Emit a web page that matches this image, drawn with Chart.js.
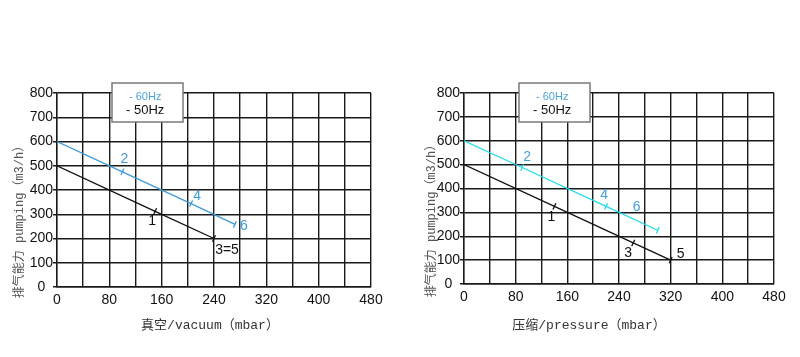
<!DOCTYPE html>
<html><head><meta charset="utf-8">
<script src="https://cdn.jsdelivr.net/npm/chart.js@4"></script>
<style>
html,body{margin:0;padding:0;background:#fff;width:800px;height:357px;overflow:hidden}
.wrap{position:absolute;top:0;width:400px;height:357px}
</style></head><body>
<div class="wrap" style="left:0"><canvas id="c1" width="400" height="357"></canvas></div>
<div class="wrap" style="left:400px"><canvas id="c2" width="400" height="357"></canvas></div>
<script>
// ---- data ----
const seriesNames = ['- 60Hz', '- 50Hz'];
const xTickLabels = [0, 80, 160, 240, 320, 400, 480];
const yTickLabels = [0, 100, 200, 300, 400, 500, 600, 700, 800];
const yTitle = '排气能力 pumping（m3/h）';

const vacuumTitle = '真空/vacuum（mbar）';
const vacuumX60 = [0, 100, 205, 272];
const vacuumY60 = [600, 475, 344, 258];
const vacuumText60 = ['', '2', '4', '6'];
const vacuumX50 = [0, 150, 240];
const vacuumY50 = [500, 312, 200];
const vacuumText50 = ['', '1', '3=5'];

const pressureTitle = '压缩/pressure（mbar）';
const pressureX60 = [0, 90, 220, 300];
const pressureY60 = [600, 488, 325, 225];
const pressureText60 = ['', '2', '4', '6'];
const pressureX50 = [0, 140, 262, 320];
const pressureY50 = [500, 325, 172, 100];
const pressureText50 = ['', '1', '3', '5'];

// ---- styling / layout ----
const GRID = '#1a1a1a';
const BLUE = '#3d9bd9';

function pts(X, Y) { return X.map((x, i) => ({x: x, y: Y[i]})); }

function makeChart(id, o) {
  const plugin = {
    id: 'decor_' + id,
    afterDatasetsDraw(chart) {
      const ctx = chart.ctx;
      chart.data.datasets.forEach((ds, di) => {
        const meta = chart.getDatasetMeta(di);
        o.texts[di].forEach((t, i) => {
          if (!t) return;
          const el = meta.data[i];
          const off = o.offsets[di][i];
          ctx.save();
          ctx.font = '14px "Liberation Sans", Arial, sans-serif';
          ctx.fillStyle = o.textColors[di];
          ctx.textAlign = 'center';
          ctx.textBaseline = 'middle';
          ctx.fillText(t, el.x + off[0], el.y + off[1]);
          ctx.restore();
        });
      });
    },
    afterDraw(chart) {
      const ctx = chart.ctx;
      ctx.save();
      // legend box
      const b = o.legendBox;
      ctx.fillStyle = '#fff';
      ctx.fillRect(b[0], b[1], b[2], b[3]);
      ctx.strokeStyle = '#7a7a7a';
      ctx.lineWidth = 1.5;
      ctx.strokeRect(b[0], b[1], b[2], b[3]);
      ctx.textBaseline = 'middle';
      ctx.textAlign = 'left';
      ctx.font = '11px "Liberation Sans", Arial, sans-serif';
      ctx.fillStyle = '#4aa3df';
      ctx.fillText(seriesNames[0], b[0] + 17, b[1] + 14);
      ctx.font = '13px "Liberation Sans", Arial, sans-serif';
      ctx.fillStyle = '#111';
      ctx.fillText(seriesNames[1], b[0] + 14, b[1] + 27);
      // x title
      ctx.fillStyle = '#333';
      ctx.textAlign = 'center';
      ctx.font = '13px "Liberation Mono", "Noto Sans CJK SC", monospace';
      ctx.fillText(o.xTitle, o.xTitlePos[0], o.xTitlePos[1]);
      // y title
      ctx.translate(o.yTitlePos[0], o.yTitlePos[1]);
      ctx.rotate(-Math.PI / 2);
      ctx.fillStyle = '#555';
      ctx.font = '12px "Liberation Mono", "Noto Sans CJK SC", monospace';
      ctx.fillText(yTitle, 0, 0);
      ctx.restore();
    }
  };
  const mkDs = (X, Y, color, texts) => ({
    data: pts(X, Y),
    showLine: true,
    borderColor: color,
    borderWidth: 1.3,
    pointStyle: 'line',
    pointRadius: texts.map((t, i) => i === 0 ? 0 : 3.5),
    pointRotation: 115,
    pointBorderColor: color,
    pointBorderWidth: 1.3,
    pointHoverRadius: 0,
    fill: false
  });
  return new Chart(document.getElementById(id), {
    type: 'scatter',
    data: {
      datasets: [
        mkDs(o.X[0], o.Y[0], o.lineColors[0], o.texts[0]),
        mkDs(o.X[1], o.Y[1], o.lineColors[1], o.texts[1])
      ]
    },
    options: {
      responsive: false,
      animation: false,
      devicePixelRatio: 1,
      layout: { padding: { top: 93, right: o.padRight, left: 0, bottom: 0 } },
      plugins: { legend: { display: false }, tooltip: { enabled: false }, title: { display: false } },
      scales: {
        x: {
          type: 'linear', min: 0, max: 480,
          afterFit(s) { s.height = o.xHeight; },
          ticks: {
            stepSize: 40, autoSkip: false, maxRotation: 0, padding: 5,
            color: '#111', font: { family: '"Liberation Sans", Arial, sans-serif', size: 14 },
            callback: v => xTickLabels.includes(v) ? String(v) : ''
          },
          grid: { color: GRID, lineWidth: 1.4, drawTicks: false },
          border: { color: GRID, width: 1.4 }
        },
        y: {
          type: 'linear', min: 0, max: 800,
          afterFit(s) { s.width = o.yWidth; },
          ticks: {
            stepSize: 100, autoSkip: false, padding: 0, crossAlign: 'center',
            color: '#111', font: { family: '"Liberation Sans", Arial, sans-serif', size: 14 },
            callback: v => yTickLabels.includes(v) ? String(v) : ''
          },
          grid: { color: GRID, lineWidth: 1.5, tickLength: 4, drawTicks: true },
          border: { color: GRID, width: 1.4 }
        }
      }
    },
    plugins: [plugin]
  });
}

makeChart('c1', {
  X: [vacuumX60, vacuumX50], Y: [vacuumY60, vacuumY50],
  texts: [vacuumText60, vacuumText50],
  lineColors: [BLUE, '#111'],
  textColors: [BLUE, '#111'],
  offsets: [
    [[0,0],[2,-13],[6,-7],[9,2]],
    [[0,0],[-3,10],[13,12]]
  ],
  yWidth: 57, padRight: 29, xHeight: 70,
  legendBox: [112, 83, 71, 39],
  xTitle: vacuumTitle, xTitlePos: [210, 326],
  yTitlePos: [20, 219]
});

makeChart('c2', {
  X: [pressureX60, pressureX50], Y: [pressureY60, pressureY50],
  texts: [pressureText60, pressureText50],
  lineColors: ['#22dcee', '#111'],
  textColors: ['#45a0e0', '#111'],
  offsets: [
    [[0,0],[5,-10],[-2,-11],[-21,-23]],
    [[0,0],[-3,11],[-5,10],[10,-6]]
  ],
  yWidth: 64, padRight: 26, xHeight: 73,
  legendBox: [119, 83, 71, 39],
  xTitle: pressureTitle, xTitlePos: [189, 326],
  yTitlePos: [32, 218]
});
</script>
</body></html>
